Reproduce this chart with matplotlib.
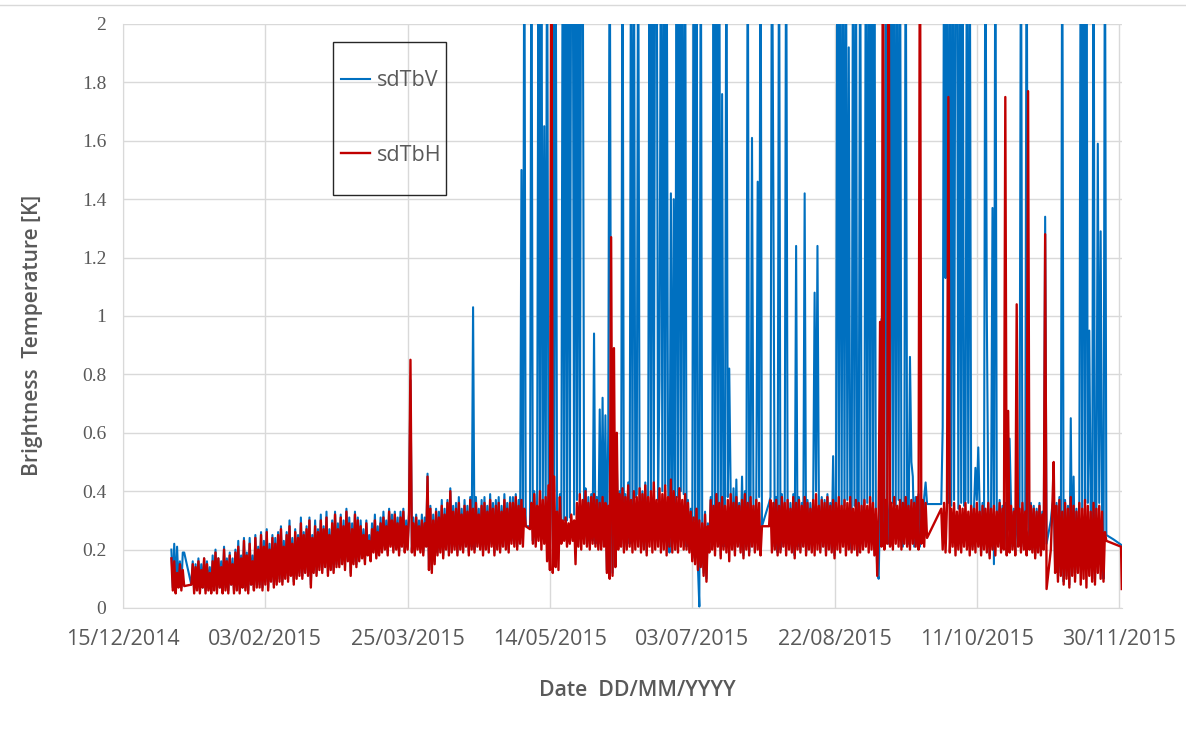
import matplotlib
matplotlib.use("Agg")
import matplotlib.pyplot as plt
import matplotlib.dates as mdates
import pandas as pd
from matplotlib.lines import Line2D
from matplotlib.patches import Rectangle

# ---- data, one value every 12 hours ----
# values above 2 are cut off by the axis, so spikes are just written as 2.5
# sdTbH
h_jan_a = [0.17, 0.06, 0.16, 0.05, 0.12, 0.07, 0.15, 0.06, 0.13, 0.075]

h_jan = [0.08, 0.15, 0.05, 0.14, 0.06, 0.16, 0.05, 0.13, 0.07, 0.17, 0.05, 0.15, 0.06, 0.12, 0.05, 0.16,
         0.06, 0.19, 0.05, 0.17, 0.07, 0.14, 0.05, 0.20, 0.06, 0.16, 0.05, 0.18, 0.08, 0.15, 0.05, 0.19,
         0.06, 0.21, 0.05, 0.17, 0.07, 0.23, 0.06, 0.18, 0.05, 0.22, 0.08, 0.16, 0.06, 0.24, 0.07, 0.20]
h_feb = [0.07, 0.25, 0.06, 0.21, 0.08, 0.26, 0.06, 0.20, 0.09, 0.24, 0.07, 0.22, 0.08, 0.25,
         0.09, 0.27, 0.08, 0.21, 0.10, 0.25, 0.09, 0.28, 0.11, 0.22, 0.08, 0.26, 0.10, 0.24,
         0.11, 0.29, 0.10, 0.25, 0.12, 0.27, 0.11, 0.30, 0.07, 0.24, 0.12, 0.28, 0.11, 0.26,
         0.13, 0.30, 0.12, 0.27, 0.14, 0.31, 0.11, 0.25, 0.13, 0.29, 0.12, 0.32, 0.14, 0.27]
h_mar = [0.14, 0.31, 0.15, 0.28, 0.13, 0.33, 0.16, 0.29, 0.11, 0.27, 0.15, 0.32, 0.14, 0.30,
         0.16, 0.28, 0.17, 0.25, 0.15, 0.29, 0.18, 0.23, 0.16, 0.27, 0.19, 0.30, 0.17, 0.26, 0.18, 0.29,
         0.19, 0.31, 0.20, 0.28, 0.18, 0.33, 0.21, 0.30, 0.19, 0.32, 0.20, 0.29, 0.18, 0.31, 0.21, 0.33,
         0.19, 0.28, 0.20, 0.32,
         0.85, 0.19, 0.29, 0.18, 0.31, 0.20, 0.28, 0.19, 0.30, 0.18, 0.29, 0.21]
h_apr = [0.45, 0.13, 0.34, 0.12, 0.30, 0.15, 0.33, 0.18, 0.31, 0.19, 0.35, 0.17, 0.32, 0.20, 0.36, 0.18,
         0.40, 0.19, 0.33, 0.20,
         0.34, 0.18, 0.36, 0.20, 0.32, 0.19, 0.35, 0.21, 0.33, 0.18, 0.37, 0.20, 0.34, 0.19, 0.36, 0.21,
         0.32, 0.20, 0.35, 0.18,
         0.36, 0.20, 0.33, 0.19, 0.37, 0.21, 0.34, 0.18, 0.35, 0.20, 0.36, 0.19, 0.33, 0.21, 0.37, 0.20,
         0.34, 0.19, 0.36, 0.22]
h_may_a = [0.36, 0.21, 0.38, 0.20, 0.35, 0.22, 0.37, 0.21, 0.34, 0.28]

h_may_c = [0.27, 0.36, 0.22, 0.39, 0.21, 0.35, 0.23, 0.40, 0.20, 0.37, 0.22, 0.38,
           0.16, 0.42, 0.13, 2.5, 0.12, 0.45, 0.14, 0.33, 0.13, 0.38,
           0.22, 0.30, 0.23, 0.31, 0.21, 0.29, 0.22, 0.32, 0.23, 0.30,
           0.15, 0.36, 0.21, 0.39, 0.20, 0.37, 0.22, 0.40, 0.21, 0.36, 0.20, 0.38, 0.22, 0.39, 0.21, 0.37,
           0.20, 0.36]
h_jun = [0.20, 0.38, 0.21, 0.36, 0.12, 0.35, 0.10, 1.27, 0.11, 0.89, 0.14, 0.60,
         0.20, 0.39, 0.21, 0.41, 0.19, 0.38, 0.20, 0.42, 0.21, 0.37, 0.19, 0.40, 0.20, 0.38, 0.21, 0.41,
         0.19, 0.39, 0.20, 0.42, 0.18, 0.38, 0.21, 0.40, 0.19, 0.43, 0.20, 0.37, 0.21, 0.41, 0.19, 0.39,
         0.20, 0.42, 0.18, 0.38, 0.21, 0.44, 0.19, 0.40, 0.20, 0.38, 0.19, 0.41, 0.21, 0.37, 0.20, 0.39]
h_jul_c = [0.20, 0.36, 0.19, 0.33,
           0.16, 0.31, 0.15, 0.34, 0.13, 0.30, 0.14, 0.29, 0.11, 0.32, 0.09, 0.28,
           0.19, 0.37, 0.20, 0.35, 0.18, 0.39, 0.21, 0.36, 0.17, 0.38, 0.20, 0.35, 0.19, 0.37, 0.16, 0.39,
           0.20, 0.36, 0.18, 0.38,
           0.21, 0.35, 0.19, 0.37, 0.17, 0.39, 0.20, 0.36, 0.18, 0.38, 0.21, 0.35, 0.19, 0.37, 0.20, 0.36,
           0.18, 0.28]

h_jul_d = [0.28, 0.37, 0.19, 0.36]
h_aug = [0.20, 0.37, 0.18, 0.35, 0.19, 0.38, 0.21, 0.36, 0.18, 0.37, 0.20, 0.34, 0.19, 0.38, 0.17, 0.36,
         0.20, 0.37, 0.19, 0.35, 0.21, 0.38, 0.18, 0.36, 0.20, 0.34, 0.19, 0.37, 0.18, 0.39, 0.20, 0.35,
         0.19, 0.37, 0.21, 0.36, 0.18, 0.38, 0.20, 0.35, 0.19, 0.37, 0.17, 0.36, 0.20, 0.38, 0.19, 0.35,
         0.21, 0.37, 0.18, 0.36, 0.20, 0.38, 0.19, 0.34, 0.20, 0.37, 0.18, 0.36, 0.19, 0.35]
h_sep_d = [0.20, 0.37, 0.21, 0.35, 0.19, 0.38, 0.20, 0.36, 0.18, 0.34, 0.11, 0.33,
           0.98, 0.21, 2.5, 0.20, 0.37, 0.22, 2.5, 0.21, 0.36, 0.20, 0.38, 0.22, 0.35, 0.21, 0.37, 0.20,
           0.36, 0.22, 0.38, 0.21, 0.35, 0.20, 0.37, 0.22, 0.36, 0.21, 0.38, 0.20, 2.5, 0.22, 0.37, 0.21,
           0.36, 0.24]

h_sep_e = [0.34, 0.20, 0.36, 0.19, 0.35]
h_oct = [1.75, 0.19, 0.34, 0.21, 0.36, 0.18, 0.33, 0.20, 0.35, 0.19, 0.34, 0.21, 0.36, 0.20,
         0.33, 0.18, 0.35, 0.20, 0.34, 0.19, 0.36, 0.21, 0.33, 0.18, 0.35, 0.20, 0.34, 0.19,
         0.36, 0.17, 0.34, 0.20, 0.35, 0.18, 0.33, 0.21, 0.36, 0.19, 0.34, 0.20, 1.75, 0.18,
         0.675, 0.19, 0.35, 0.20, 0.33, 0.18, 1.04, 0.21, 0.34, 0.19, 0.36, 0.20, 0.33, 0.18, 1.77, 0.20,
         0.35, 0.19, 0.34, 0.17]
h_nov_e = [0.33, 0.19, 0.35, 0.18, 0.32, 0.20, 1.28, 0.065]

h_nov_f = [0.20, 0.34, 0.50, 0.12, 0.35, 0.09, 0.37, 0.11, 0.33, 0.08, 0.36, 0.10,
           0.34, 0.07, 0.38, 0.11, 0.35, 0.09, 0.33, 0.12, 0.36, 0.08, 0.34, 0.10,
           0.37, 0.07, 0.35, 0.11, 0.33, 0.09, 0.36, 0.08, 0.34, 0.12, 0.35, 0.10,
           0.33, 0.09, 0.26, 0.23]
h_tail_dates = ["2015-11-30 16:00", "2015-11-30 22:00"]
h_tail = [0.21, 0.065]

# sdTbV
v_jan_a = [0.20, 0.07, 0.22, 0.06, 0.21, 0.08, 0.16, 0.07, 0.19, 0.19]

v_jan = [0.08, 0.16, 0.06, 0.15, 0.07, 0.17, 0.06, 0.15, 0.07, 0.17, 0.06, 0.16, 0.07, 0.14, 0.06, 0.18,
         0.07, 0.20, 0.06, 0.17, 0.07, 0.16, 0.06, 0.21, 0.07, 0.17, 0.06, 0.19, 0.08, 0.17, 0.06, 0.20,
         0.07, 0.23, 0.06, 0.18, 0.07, 0.24, 0.07, 0.19, 0.06, 0.24, 0.08, 0.18, 0.07, 0.25, 0.08, 0.21]
v_feb = [0.08, 0.26, 0.07, 0.23, 0.09, 0.27, 0.07, 0.22, 0.10, 0.25, 0.08, 0.24, 0.09, 0.26,
         0.10, 0.28, 0.09, 0.23, 0.11, 0.26, 0.10, 0.30, 0.12, 0.24, 0.09, 0.27, 0.11, 0.25,
         0.12, 0.31, 0.11, 0.26, 0.13, 0.28, 0.12, 0.31, 0.08, 0.25, 0.13, 0.30, 0.12, 0.27,
         0.14, 0.32, 0.13, 0.28, 0.15, 0.33, 0.12, 0.27, 0.14, 0.30, 0.13, 0.33, 0.15, 0.29]
v_mar = [0.15, 0.32, 0.16, 0.30, 0.14, 0.34, 0.17, 0.31, 0.12, 0.29, 0.16, 0.33, 0.15, 0.31,
         0.17, 0.30, 0.18, 0.27, 0.16, 0.30, 0.19, 0.25, 0.17, 0.29, 0.20, 0.32, 0.18, 0.28, 0.19, 0.31,
         0.20, 0.33, 0.21, 0.30, 0.19, 0.34, 0.22, 0.32, 0.20, 0.33, 0.21, 0.31, 0.19, 0.33, 0.22, 0.34,
         0.20, 0.30, 0.21, 0.33,
         0.78, 0.20, 0.31, 0.19, 0.32, 0.21, 0.30, 0.20, 0.32, 0.19, 0.31, 0.22]
v_apr = [0.46, 0.14, 0.35, 0.13, 0.32, 0.16, 0.34, 0.19, 0.33, 0.20, 0.37, 0.18, 0.34, 0.21, 0.37, 0.19,
         0.41, 0.20, 0.35, 0.21,
         0.36, 0.19, 0.38, 0.21, 0.34, 0.20, 0.37, 0.22, 0.35, 0.19, 0.38, 0.21, 1.03, 0.20, 0.38, 0.22,
         0.34, 0.21, 0.37, 0.19,
         0.38, 0.21, 0.35, 0.20, 0.39, 0.22, 0.36, 0.19, 0.37, 0.21, 0.38, 0.20, 0.35, 0.22, 0.39, 0.21,
         0.36, 0.20, 0.38, 0.23]
v_may_a = [0.38, 0.22, 0.39, 0.21, 0.37, 0.23, 1.50, 0.22, 2.5, 0.28]

v_may_c = [0.28, 2.5, 0.23, 0.40, 0.22, 0.37, 2.5, 0.30, 2.5, 0.35,
           1.65, 0.30, 2.5, 0.40, 0.20, 0.40, 2.5, 0.40, 2.5, 0.34,
           0.20, 0.39, 0.24, 2.5, 0.30, 2.5, 0.30, 2.5, 0.31, 2.5,
           2.5, 0.32, 2.5, 0.37, 2.5, 0.38, 2.5, 2.5, 0.36, 0.41,
           0.22, 0.38, 0.22, 0.39, 0.23, 0.94, 0.22, 0.38, 0.22, 0.68]
v_jun = [0.21, 0.72, 0.22, 0.66, 0.13, 0.62, 2.5, 0.50, 0.12, 0.45,
         0.15, 0.50, 0.21, 0.40, 0.22, 2.5, 0.20, 0.39, 0.21, 0.43,
         0.22, 2.5, 0.35, 2.5, 0.38, 0.39, 2.5, 0.42, 0.20, 0.40,
         0.21, 0.43, 0.19, 0.39, 2.5, 0.38, 2.5, 0.40, 2.5, 2.5,
         0.37, 0.78, 2.5, 0.40, 2.5, 0.42, 2.5, 0.43, 0.19, 1.42,
         0.22, 1.40, 0.20, 2.5, 0.38, 2.5, 0.40, 2.5, 0.39, 2.5]
v_jul_c = [0.21, 0.37, 0.20, 0.34, 0.17, 2.5, 0.30, 2.5, 0.14, 0.005,
           2.5, 0.29, 0.12, 0.33, 0.10, 0.29, 0.20, 0.38, 0.21, 2.5,
           0.30, 2.5, 0.30, 2.5, 0.18, 1.76, 0.21, 0.36, 2.5, 0.38,
           0.82, 0.40, 0.21, 0.41, 0.19, 0.44, 0.22, 0.36, 0.20, 0.45,
           0.18, 0.40, 0.21, 2.5, 0.19, 0.39, 1.61, 0.36, 0.20, 0.37,
           1.46, 0.38, 2.5, 0.28]

v_jul_d = [0.36, 0.38, 2.5, 1.42]
v_aug = [0.21, 0.38, 0.19, 2.5, 0.20, 0.39, 0.22, 0.37, 2.5, 0.38,
         0.21, 0.36, 0.20, 0.39, 0.18, 1.24, 0.21, 0.38, 0.20, 0.36,
         0.22, 1.42, 0.19, 0.37, 0.21, 0.36, 0.20, 0.38, 1.08, 0.40,
         1.24, 0.36, 0.20, 0.38, 0.22, 0.37, 0.19, 0.39, 0.21, 0.36,
         0.20, 0.52, 0.18, 0.37, 2.5, 0.36, 2.5, 0.34, 2.5, 0.35,
         2.5, 0.37, 1.92, 0.35, 0.20, 2.5, 0.35, 2.5, 0.19, 0.37,
         2.5, 0.35]
v_sep_d = [0.21, 0.38, 2.5, 0.36, 2.5, 0.37, 2.5, 0.35, 2.5, 0.34,
           0.12, 0.10, 0.35, 0.99, 0.22, 0.36, 2.5, 0.38, 0.22, 0.37,
           2.5, 0.36, 2.5, 0.35, 2.5, 0.37, 2.5, 0.36, 0.21, 0.37,
           2.5, 0.39, 0.22, 0.86, 0.50, 0.45, 0.21, 0.38, 0.22, 0.39,
           0.21, 0.37, 0.23, 0.38, 0.43, 0.356]

v_sep_e = [0.356, 0.62, 2.5, 1.13, 2.5]
v_oct = [0.36, 2.5, 0.35, 2.5, 0.37, 2.5, 2.5, 0.34, 2.5, 0.36,
         2.5, 0.35, 0.37, 2.5, 0.36, 2.5, 0.35, 0.21, 0.35, 0.48,
         0.37, 0.55, 0.34, 0.19, 0.36, 0.21, 2.5, 1.01, 0.37, 0.18,
         0.35, 1.37, 0.15, 2.5, 0.34, 0.22, 0.37, 0.20, 0.35, 0.21,
         0.36, 0.19, 0.40, 0.58, 0.36, 0.21, 0.34, 0.19, 0.38, 0.22,
         0.35, 2.5, 0.37, 0.21, 0.34, 2.5, 0.36, 0.21, 0.36, 0.20,
         0.35, 0.18]
v_nov_e = [0.34, 0.20, 0.36, 0.19, 0.33, 0.21, 1.34, 0.22]

v_nov_f = [0.30, 0.35, 0.38, 0.13, 0.36, 0.10, 0.38, 0.12, 2.5, 0.09,
           0.37, 0.11, 0.35, 0.08, 0.65, 0.12, 0.45, 0.10, 0.34, 0.13,
           0.37, 2.5, 0.33, 2.5, 0.35, 2.5, 0.36, 0.95, 0.34, 0.10,
           2.5, 0.09, 0.35, 1.59, 0.36, 1.29, 0.34, 0.10, 2.5, 0.25]
v_tail_dates = ["2015-11-28 00:00", "2015-11-30 22:00"]
v_tail = [0.235, 0.215]

# start of each unbroken run of the record (gaps are joined by straight lines)
seg_starts = ["2015-01-01 00:00", "2015-01-08 00:00", "2015-05-07 00:00",
              "2015-07-30 00:00", "2015-09-28 12:00", "2015-11-06 00:00"]
h_runs = [h_jan_a, h_jan + h_feb + h_mar + h_apr + h_may_a, h_may_c + h_jun + h_jul_c,
          h_jul_d + h_aug + h_sep_d, h_sep_e + h_oct + h_nov_e, h_nov_f]
v_runs = [v_jan_a, v_jan + v_feb + v_mar + v_apr + v_may_a, v_may_c + v_jun + v_jul_c,
          v_jul_d + v_aug + v_sep_d, v_sep_e + v_oct + v_nov_e, v_nov_f]

tick_dates = ["2014-12-15", "2015-02-03", "2015-03-25", "2015-05-14",
              "2015-07-03", "2015-08-22", "2015-10-11", "2015-11-30"]


def build(runs, tail_dates, tail_vals):
    t, v = [], []
    for start, vals in zip(seg_starts, runs):
        t.extend(pd.date_range(start, periods=len(vals), freq="12h"))
        v.extend(vals)
    t.extend(pd.to_datetime(tail_dates))
    v.extend(tail_vals)
    return t, v


h_t, h_v = build(h_runs, h_tail_dates, h_tail)
v_t, v_v = build(v_runs, v_tail_dates, v_tail)

# ---- figure ----
W, H = 1186, 736
fig = plt.figure(figsize=(W / 100, H / 100), dpi=100)
ax = fig.add_axes([123 / W, 1 - 608 / H, (1122 - 123) / W, (608 - 24) / H])

blue = "#0070C0"
red = "#C00000"
grey = "#595959"

ax.plot(v_t, v_v, color=blue, lw=1.5, label="sdTbV")
ax.plot(h_t, h_v, color=red, lw=1.7, label="sdTbH")

ax.set_xlim(pd.Timestamp("2014-12-15"), pd.Timestamp("2015-12-01"))
ax.set_ylim(0, 2)
ax.set_yticks([i / 5 for i in range(11)])
ax.set_yticklabels(["0", "0.2", "0.4", "0.6", "0.8", "1", "1.2", "1.4", "1.6", "1.8", "2"])
ax.set_xticks(pd.to_datetime(tick_dates))
ax.xaxis.set_major_formatter(mdates.DateFormatter("%d/%m/%Y"))

ax.grid(True, color="#d9d9d9", lw=1)
ax.set_axisbelow(True)
for s in ["top", "right"]:
    ax.spines[s].set_visible(False)
for s in ["left", "bottom"]:
    ax.spines[s].set_color("#d9d9d9")
ax.tick_params(axis="both", length=0, colors=grey)
ax.tick_params(axis="x", pad=15)
ax.tick_params(axis="y", pad=12)
for lab in ax.get_xticklabels():
    lab.set_fontfamily("Open Sans")
    lab.set_fontsize(15.5)
for lab in ax.get_yticklabels():
    lab.set_fontfamily("Liberation Serif")
    lab.set_fontsize(14)

fig.text(637 / W, 1 - 691 / H, "Date  DD/MM/YYYY", ha="center", va="center",
         fontsize=15.3, color=grey, family="Open Sans", fontweight="semibold")
fig.text(33 / W, 1 - 335 / H, "Brightness  Temperature [K]", ha="center", va="center",
         rotation=90, fontsize=15, color=grey, family="Open Sans", fontweight="semibold")

# legend box
fig.add_artist(Rectangle((333 / W, 1 - 195 / H), (446 - 333) / W, (195 - 42) / H,
                         transform=fig.transFigure, fill=False, edgecolor="#262626", lw=1))
leg = fig.legend(loc="center", bbox_to_anchor=(391 / W, 1 - 118 / H), frameon=False,
                 prop={"family": "Open Sans", "size": 15.5}, labelcolor=grey,
                 handlelength=1.35, handletextpad=0.3, labelspacing=2.5)

fig.add_artist(Line2D([0, 1], [1 - 5 / H, 1 - 5 / H], color="#d9d9d9", lw=1))

fig.savefig("out.png", dpi=100)
